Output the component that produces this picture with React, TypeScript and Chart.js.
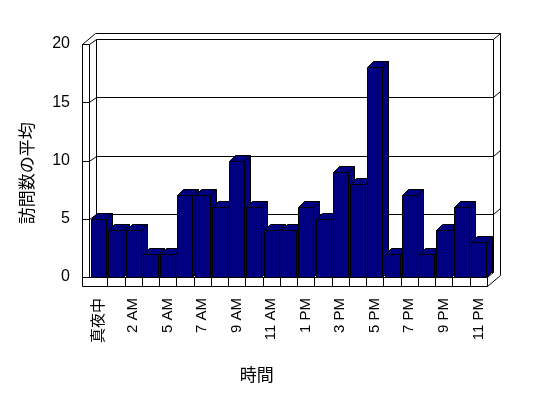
import React, { useEffect, useRef } from 'react';
import { Chart, registerables } from 'chart.js';

Chart.register(...registerables);

// ---- data ----
const hours: string[] = [
  '真夜中', '1 AM', '2 AM', '3 AM', '5 AM', '6 AM', '7 AM', '8 AM', '9 AM', '10 AM', '11 AM', '正午',
  '1 PM', '2 PM', '3 PM', '4 PM', '5 PM', '6 PM', '7 PM', '8 PM', '9 PM', '10 PM', '11 PM',
];
const visits: number[] = [5, 4, 4, 2, 2, 7, 7, 6, 10, 6, 4, 4, 6, 5, 9, 8, 18, 2, 7, 2, 4, 6, 3];
const yMin = 0;
const yMax = 20;
const yStep = 5;
const yTitle = '訪問数の平均';
const xTitle = '時間';

const NAVY = '#000080';
const FONT = '"Liberation Sans", Arial, "Noto Sans CJK JP", sans-serif';
const CJK = '"Noto Sans CJK JP", "Liberation Sans", sans-serif';

const frame3d = {
  id: 'frame3d',
  beforeDraw(chart: any) {
    const ctx = chart.ctx;
    ctx.save();
    ctx.fillStyle = '#ffffff';
    ctx.fillRect(0, 0, chart.width, chart.height);
    ctx.restore();
  },
  beforeDatasetsDraw(chart: any) {
    const ctx = chart.ctx;
    const { left, right, top, bottom } = chart.chartArea;
    const xs = chart.scales.x;
    const ys = chart.scales.y;
    const T = Math.round(top);
    const B = Math.round(bottom);
    const Li = Math.round(left) - 1;
    const Lo = Li - 7;
    const Rf = Math.round(right);
    const Fb = B + 9;
    ctx.save();
    ctx.strokeStyle = '#000';
    ctx.lineWidth = 1;
    const line = (x1: number, y1: number, x2: number, y2: number) => {
      ctx.beginPath();
      ctx.moveTo(x1 + 0.5, y1 + 0.5);
      ctx.lineTo(x2 + 0.5, y2 + 0.5);
      ctx.stroke();
    };
    // left wall
    line(Lo, T, Lo, Fb);
    line(Li, T, Li, B);
    line(Lo, T, Li, T);
    line(Lo, T, Lo + 13, T - 11);
    line(Li, T, Li + 7, T - 5);
    line(Li + 7, T - 5, Li + 7, B - 5);
    // back wall
    line(Li + 7, T - 5, Rf + 6, T - 5);
    line(Lo + 13, T - 11, Rf + 13, T - 11);
    line(Rf + 6, T - 5, Rf + 6, B - 5);
    line(Rf + 6, T - 5, Rf + 13, T - 11);
    line(Rf + 13, T - 11, Rf + 13, Fb - 11);
    // floor
    line(Lo, Fb, Rf, Fb);
    line(Li, B, Rf, B);
    line(Rf, B, Rf, Fb);
    line(Rf, Fb, Rf + 13, Fb - 11);
    line(Rf, B, Rf + 6, B - 5);
    line(Li + 7, B - 5, Rf + 6, B - 5);
    const n = hours.length;
    for (let i = 1; i < n; i++) {
      const bx = Math.round((xs.getPixelForValue(i - 1) + xs.getPixelForValue(i)) / 2);
      line(bx, B, bx, Fb);
    }
    // gridlines
    ys.ticks.forEach((t: any) => {
      const y = Math.round(ys.getPixelForValue(t.value));
      line(Lo, y, Li, y);
      if (t.value > yMin && t.value < yMax) {
        line(Li, y, Li + 7, y - 5);
        line(Li + 7, y - 5, Rf + 6, y - 5);
        line(Rf + 6, y - 5, Rf + 13, y - 11);
      }
    });
    ctx.restore();
  },
  afterDatasetsDraw(chart: any) {
    const ctx = chart.ctx;
    const meta = chart.getDatasetMeta(0);
    const dx = 6;
    const dy = -6;
    ctx.save();
    ctx.strokeStyle = '#000';
    ctx.fillStyle = NAVY;
    ctx.lineWidth = 1;
    ctx.lineJoin = 'miter';
    const poly = (pts: number[][]) => {
      ctx.beginPath();
      pts.forEach((p, i) => (i ? ctx.lineTo(p[0] + 0.5, p[1] + 0.5) : ctx.moveTo(p[0] + 0.5, p[1] + 0.5)));
      ctx.closePath();
      ctx.fill();
      ctx.stroke();
    };
    meta.data.forEach((el: any) => {
      const { x, y, base, width } = el.getProps(['x', 'y', 'base', 'width'], true);
      const l = Math.round(x - width / 2);
      const r = Math.round(x + width / 2);
      const t = Math.round(y);
      const b = Math.round(base);
      poly([[r, t], [r + dx, t + dy], [r + dx, b + dy], [r, b]]);
      poly([[l, t], [l + dx, t + dy], [r + dx, t + dy], [r, t]]);
      poly([[l, t], [r, t], [r, b], [l, b]]);
    });
    ctx.restore();
  },
  afterDraw(chart: any) {
    const ctx = chart.ctx;
    const { left, right, top, bottom } = chart.chartArea;
    ctx.save();
    ctx.fillStyle = '#000';
    ctx.font = `17px ${CJK}`;
    ctx.textAlign = 'center';
    ctx.textBaseline = 'middle';
    // x title
    ctx.fillText(xTitle, left + (right - left) * 0.42, bottom + 98);
    // y title
    ctx.translate(27, top + (bottom - top) * 0.555);
    ctx.rotate(-Math.PI / 2);
    ctx.fillText(yTitle, 0, 0);
    ctx.restore();
  },
};

export default function App() {
  const ref = useRef<HTMLCanvasElement | null>(null);
  useEffect(() => {
    document.body.style.margin = '0';
    const canvas = ref.current;
    if (!canvas) return;
    const chart = new Chart(canvas, {
      type: 'bar',
      data: {
        labels: hours,
        datasets: [
          {
            data: visits,
            backgroundColor: 'rgba(0,0,0,0)',
            borderWidth: 0,
            barPercentage: 0.87,
            categoryPercentage: 1,
          },
        ],
      },
      options: {
        responsive: false,
        animation: false,
        devicePixelRatio: 1,
        layout: { padding: { left: 0, top: 44, right: 61, bottom: 0 } },
        plugins: { legend: { display: false }, tooltip: { enabled: false } },
        scales: {
          x: {
            grid: { display: false, drawTicks: false },
            border: { display: false },
            ticks: {
              autoSkip: false,
              maxRotation: 90,
              minRotation: 90,
              padding: 21,
              color: '#000',
              font: { family: FONT, size: 15 },
              callback: (_v: any, i: number) => (i % 2 === 0 ? hours[i] : ''),
            },
            afterFit: (s: any) => {
              s.height = 121;
            },
          },
          y: {
            min: yMin,
            max: yMax,
            grid: { display: false, drawTicks: false },
            border: { display: false },
            ticks: {
              stepSize: yStep,
              padding: 20,
              color: '#000',
              font: { family: FONT, size: 16 },
            },
            afterFit: (s: any) => {
              s.width = 90;
            },
          },
        },
      },
      plugins: [frame3d],
    });
    return () => chart.destroy();
  }, []);
  return (
    <div style={{ position: 'fixed', left: 0, top: 0, width: 548, height: 398, background: '#fff' }}>
      <canvas ref={ref} width={548} height={398} style={{ width: 548, height: 398, display: 'block' }} />
    </div>
  );
}
